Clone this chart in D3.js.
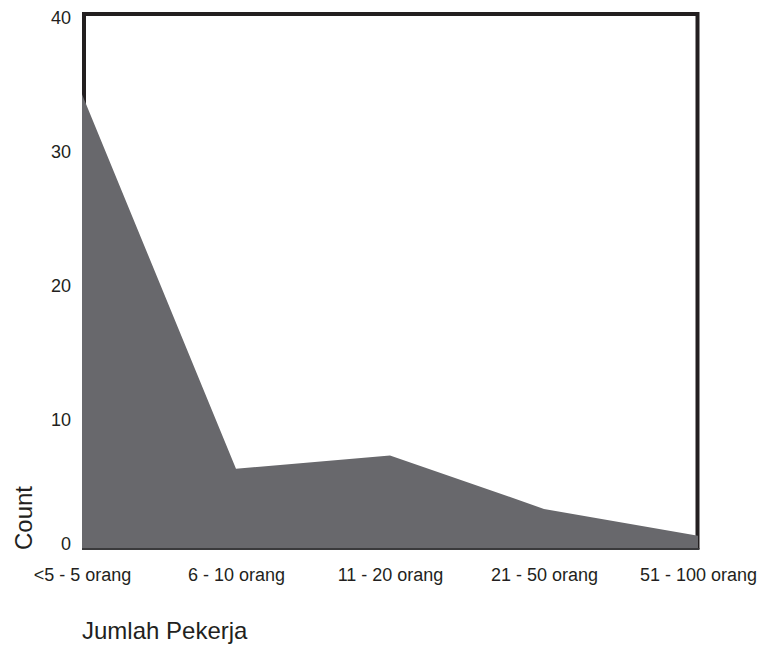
<!DOCTYPE html>
<html>
<head>
<meta charset="utf-8">
<script src="https://cdn.jsdelivr.net/npm/d3@7/dist/d3.min.js"></script>
<style>
  html, body { margin: 0; padding: 0; background: #fff; }
  svg { display: block; font-family: "Liberation Sans", Arial, sans-serif; }
</style>
</head>
<body>
<svg id="chart" width="765" height="651"></svg>
<script>
const categories = ["<5 - 5 orang", "6 - 10 orang", "11 - 20 orang", "21 - 50 orang", "51 - 100 orang"];
const counts = [34, 6, 7, 3, 1];
const yTicks = [0, 10, 20, 30, 40];
const xTitle = "Jumlah Pekerja";
const yTitle = "Count";

(function () {
const svg = d3.select("#chart");
const pLeft = 82, pRight = 698, pTop = 14, pBottom = 549;

const x = d3.scalePoint().domain(categories).range([pLeft, pRight]).padding(0);
const y = d3.scaleLinear().domain([0, 40]).range([pBottom, pTop]);

const data = categories.map((c, i) => ({ c, v: counts[i] }));

// frame (left, top, right)
const frameColor = "#231f20";
svg.append("path")
  .attr("d", `M${pLeft + 2},${pBottom} L${pLeft + 2},${pTop} L${pRight - 0.5},${pTop} L${pRight - 0.5},${pBottom}`)
  .attr("fill", "none")
  .attr("stroke", frameColor)
  .attr("stroke-width", 4)
  .attr("stroke-linejoin", "miter");

// area
const area = d3.area()
  .x(d => x(d.c))
  .y0(y(0))
  .y1(d => y(d.v));
svg.append("path")
  .datum(data)
  .attr("d", area)
  .attr("fill", "#68686c");

// bottom axis line
svg.append("line")
  .attr("x1", pLeft).attr("x2", pRight + 1.5)
  .attr("y1", pBottom).attr("y2", pBottom)
  .attr("stroke", "#3a3a3c")
  .attr("stroke-width", 2);

// y axis
const yAxis = svg.append("g")
  .attr("transform", `translate(${pLeft - 11},0)`)
  .call(d3.axisLeft(y).tickValues(yTicks).tickSize(0).tickPadding(0).tickFormat(d3.format("d")));
yAxis.select(".domain").remove();
yAxis.selectAll("text")
  .attr("font-size", 18)
  .attr("font-family", "Liberation Sans, Arial, sans-serif")
  .attr("fill", "#231f20")
  .attr("dy", d => d === 0 ? "-0.0em" : "0.55em");

// x axis
const xAxis = svg.append("g")
  .attr("transform", `translate(0,${pBottom})`)
  .call(d3.axisBottom(x).tickSize(0).tickPadding(19));
xAxis.select(".domain").remove();
xAxis.selectAll("text")
  .attr("font-size", 18)
  .attr("font-family", "Liberation Sans, Arial, sans-serif")
  .attr("fill", "#231f20");

// titles
svg.append("text")
  .attr("transform", `translate(32,550) rotate(-90)`)
  .attr("text-anchor", "start")
  .attr("font-size", 24)
  .attr("fill", "#231f20")
  .text(yTitle);

svg.append("text")
  .attr("x", 82)
  .attr("y", 639)
  .attr("font-size", 24)
  .attr("fill", "#231f20")
  .text(xTitle);
})();
</script>
</body>
</html>
